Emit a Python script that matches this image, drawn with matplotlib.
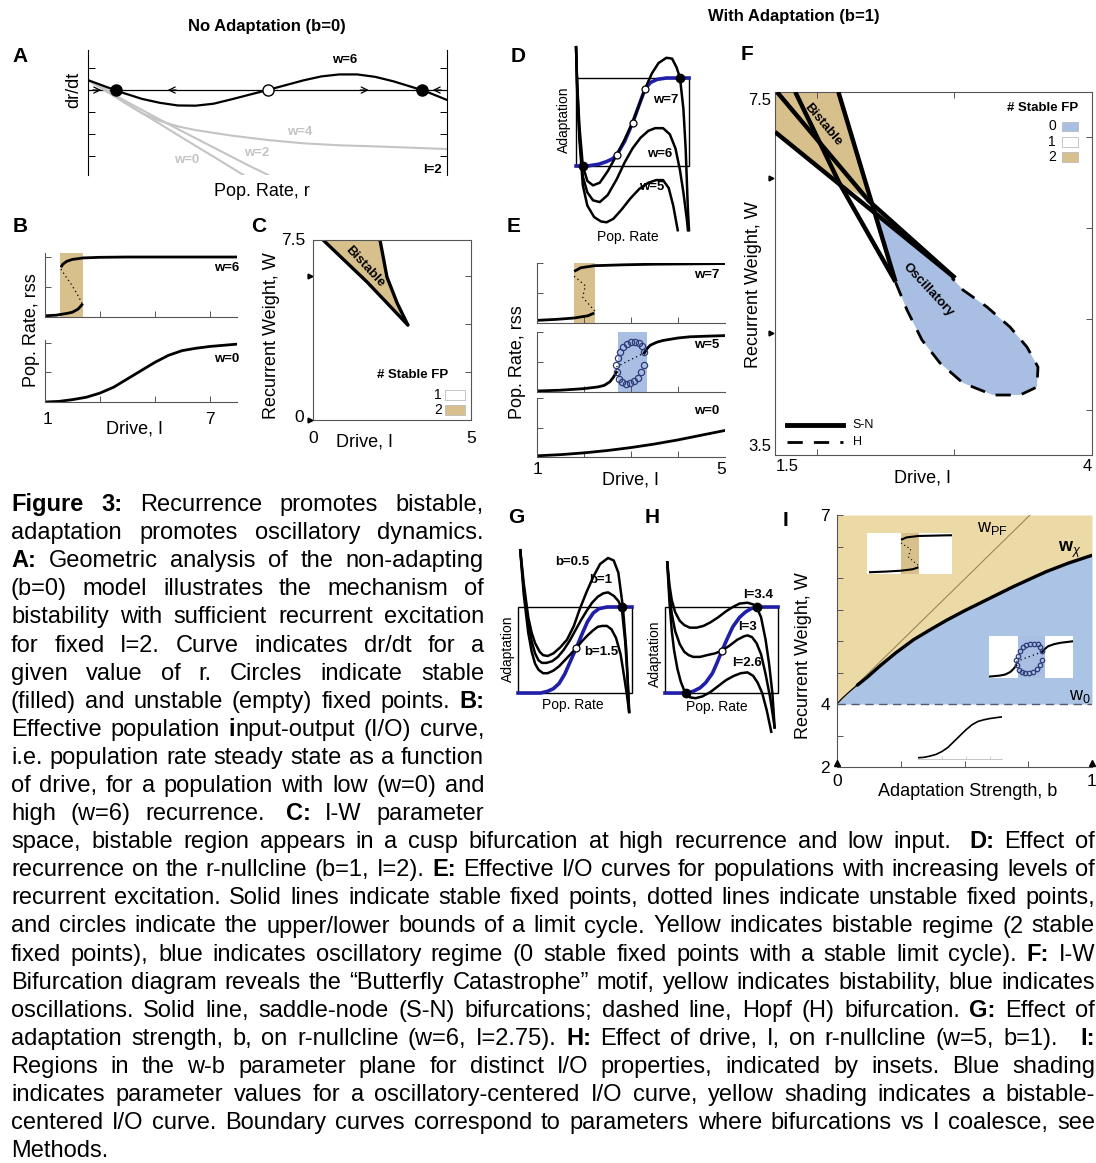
import matplotlib
matplotlib.use("Agg")
import matplotlib.pyplot as plt
from matplotlib.patches import Rectangle, Polygon

FIG_W, FIG_H = 1096, 1163

plt.rcParams["font.family"] = ["Liberation Sans", "DejaVu Sans"]
plt.rcParams["mathtext.fontset"] = "custom"
plt.rcParams["mathtext.rm"] = "Liberation Sans"
plt.rcParams["mathtext.it"] = "Liberation Sans:italic"
plt.rcParams["mathtext.bf"] = "Liberation Sans:bold"

TAN = "#d8c08d"
TAN_LIGHT = "#ecdaa6"
BLUE = "#a8bee2"
BLUE_LIGHT = "#abc3e5"
NULL_BLUE = "#1f1fa8"
NAVY = "#2e3d78"
GRAY = "#c4c4c4"
SPINE = "#555555"

# ---- A: dr/dt as a function of r (b=0, I=2)
A_R6 = [0.00, 0.05, 0.10, 0.15, 0.20, 0.25, 0.30, 0.35, 0.40, 0.45, 0.50,
        0.55, 0.60, 0.65, 0.70, 0.75, 0.80, 0.85, 0.90, 0.93, 0.95, 1.00]
A_W6 = [0.45, 0.15, -0.14, -0.40, -0.58, -0.70, -0.71, -0.62, -0.42, -0.21, 0.00,
        0.22, 0.44, 0.62, 0.71, 0.71, 0.60, 0.40, 0.15, 0.00, -0.12, -0.45]
A_R4 = [0.00, 0.05, 0.10, 0.15, 0.20, 0.25, 0.30, 0.40, 0.50, 0.60, 0.70, 0.80, 0.90, 1.00]
A_W4 = [0.45, 0.05, -0.55, -1.05, -1.40, -1.65, -1.82, -2.07, -2.27, -2.42, -2.51, -2.56, -2.62, -2.68]
A_R2 = [0.00, 0.05, 0.10, 0.15, 0.20, 0.25, 0.30, 0.35, 0.40, 0.45, 0.52]
A_W2 = [0.45, 0.00, -0.46, -0.90, -1.34, -1.77, -2.19, -2.61, -3.03, -3.45, -4.00]
A_R0 = [0.00, 0.05, 0.10, 0.15, 0.20, 0.25, 0.30, 0.35, 0.40, 0.45]
A_W0 = [0.45, -0.05, -0.55, -1.04, -1.54, -2.04, -2.54, -3.03, -3.53, -4.03]
A_STABLE = [0.078, 0.93]
A_UNSTABLE = [0.50]
A_ARROW_R = [0.025, 0.234, 0.77, 0.972]
A_ARROW_DIR = [1, -1, 1, -1]

# ---- B: steady-state rate vs drive (b=0)
B_W6_LO_I = [1.0, 1.4, 1.8, 2.0, 2.2, 2.38]
B_W6_LO_R = [0.02, 0.03, 0.06, 0.08, 0.13, 0.22]
B_W6_HI_I = [1.58, 1.65, 1.8, 2.0, 2.4, 3.0, 4.0, 6.0, 8.0]
B_W6_HI_R = [0.83, 0.88, 0.93, 0.96, 0.985, 0.995, 1.0, 1.0, 1.0]
B_W6_MID_I = [1.58, 1.75, 1.98, 2.2, 2.38]
B_W6_MID_R = [0.80, 0.68, 0.53, 0.36, 0.20]
B_BISTABLE = (1.55, 2.38)
B_W0_I = [1.0, 1.5, 2.0, 2.5, 3.0, 3.5, 4.0, 4.5, 5.0, 5.5, 6.0, 6.5, 7.0, 7.5, 8.0]
B_W0_R = [0.0, 0.01, 0.04, 0.08, 0.15, 0.25, 0.39, 0.53, 0.67, 0.79, 0.87, 0.91, 0.94, 0.96, 0.98]

# ---- C: I-W plane, b=0
C_LOW_I = [0.32, 1.71, 3.0]
C_LOW_W = [7.5, 5.75, 3.96]
C_UP_I = [2.12, 2.34, 2.66, 3.0]
C_UP_W = [7.5, 5.96, 4.88, 3.96]

# ---- D: r-nullcline and adaptation nullcline (b=1, I=2)
D_BLUE_R = [0.0, 0.10, 0.20, 0.27, 0.32, 0.36, 0.43, 0.50, 0.56, 0.61, 0.66, 0.72, 0.80, 1.0]
D_BLUE_A = [0.0, 0.0, 0.02, 0.05, 0.08, 0.125, 0.28, 0.49, 0.70, 0.875, 0.95, 0.985, 1.0, 1.0]
D_W7_R = [0.00, 0.01, 0.03, 0.06, 0.10, 0.15, 0.21, 0.28, 0.36, 0.43, 0.50, 0.56,
          0.61, 0.67, 0.73, 0.80, 0.85, 0.89, 0.92, 0.95, 0.97, 0.99, 1.00]
D_W7_A = [1.35, 0.95, 0.45, 0.0, -0.17, -0.22, -0.19, -0.06, 0.125, 0.30, 0.49, 0.70,
          0.875, 1.05, 1.17, 1.23, 1.22, 1.12, 1.0, 0.65, 0.2, -0.5, -0.73]
D_W6_R = [0.00, 0.01, 0.03, 0.06, 0.10, 0.15, 0.21, 0.28, 0.36, 0.43, 0.50, 0.57,
          0.64, 0.70, 0.77, 0.83, 0.88, 0.92, 0.95, 0.98, 0.99]
D_W6_A = [1.35, 0.9, 0.35, -0.12, -0.30, -0.39, -0.41, -0.33, -0.15, 0.04, 0.20, 0.32,
          0.40, 0.43, 0.43, 0.36, 0.20, -0.05, -0.30, -0.60, -0.73]
D_W5_R = [0.00, 0.01, 0.03, 0.06, 0.10, 0.16, 0.22, 0.27, 0.33, 0.40, 0.48, 0.56,
          0.64, 0.71, 0.77, 0.82, 0.86, 0.90]
D_W5_A = [1.35, 0.85, 0.3, -0.22, -0.45, -0.58, -0.63, -0.64, -0.60, -0.50, -0.37, -0.26,
          -0.19, -0.16, -0.16, -0.25, -0.45, -0.73]
D_STABLE = ([0.06, 0.92], [0.0, 1.0])
D_UNSTABLE = ([0.36, 0.50, 0.61], [0.125, 0.49, 0.875])

# ---- E: steady-state rate vs drive (b=1)
E7_LO_I = [1.0, 1.4, 1.79, 2.08, 2.22]
E7_LO_R = [0.044, 0.06, 0.083, 0.12, 0.167]
E7_HI_I = [1.79, 1.93, 2.22, 2.85, 3.5, 5.0]
E7_HI_R = [0.86, 0.92, 0.955, 0.97, 0.98, 0.99]
E7_MID_I = [1.79, 2.03, 1.97, 2.24]
E7_MID_R = [0.78, 0.62, 0.43, 0.19]
E7_BISTABLE = (1.79, 2.23)
E5_LO_I = [1.0, 1.5, 2.0, 2.3, 2.43, 2.55, 2.62, 2.69]
E5_LO_R = [0.017, 0.03, 0.056, 0.085, 0.11, 0.17, 0.24, 0.33]
E5_HI_I = [3.28, 3.35, 3.41, 3.55, 3.69, 4.0, 4.25, 4.6, 5.0]
E5_HI_R = [0.65, 0.73, 0.78, 0.83, 0.86, 0.90, 0.92, 0.93, 0.94]
E5_MID_I = [2.69, 3.28]
E5_MID_R = [0.42, 0.65]
E5_OSC = (2.72, 3.33)
E5_CYC_UP_I = [2.69, 2.72, 2.77, 2.83, 2.91, 3.00, 3.09, 3.17, 3.23, 3.28]
E5_CYC_UP_R = [0.45, 0.56, 0.67, 0.75, 0.80, 0.83, 0.84, 0.82, 0.77, 0.66]
E5_CYC_LO_I = [2.70, 2.74, 2.81, 2.89, 2.98, 3.07, 3.15, 3.22, 3.27]
E5_CYC_LO_R = [0.33, 0.22, 0.16, 0.14, 0.15, 0.18, 0.24, 0.33, 0.45]
E0_I = [1.0, 1.5, 2.0, 2.5, 3.0, 3.5, 4.0, 4.5, 5.0]
E0_R = [0.02, 0.04, 0.07, 0.11, 0.16, 0.22, 0.29, 0.37, 0.45]

# ---- F: I-W bifurcation diagram (b=1)
F_TAN_I = [1.5, 2.0, 2.24, 2.01, 1.5]
F_TAN_W = [7.5, 7.5, 6.30, 6.49, 7.06]
F_OSC_I = [2.27, 2.45, 2.541, 2.659, 2.801, 2.983, 3.219, 3.432, 3.566, 3.574,
           3.487, 3.353, 3.172, 2.983, 2.896]
F_OSC_W = [6.18, 5.406, 5.098, 4.767, 4.514, 4.293, 4.161, 4.161, 4.249, 4.470,
           4.690, 4.911, 5.131, 5.318, 5.451]
F_SN = [
    ([1.5, 2.92], [7.06, 5.45]),
    ([2.0, 2.45], [7.5, 5.41]),
    ([1.516, 2.24, 2.92], [7.5, 6.30, 5.45]),
    ([1.66, 2.01, 2.45], [7.5, 6.49, 5.41]),
]
F_HOPF_I = F_OSC_I[1:]
F_HOPF_W = F_OSC_W[1:]

# ---- G: r-nullclines for several adaptation strengths (w=6, I=2.75)
G_BLUE_X = [0.0, 0.20, 0.26, 0.31, 0.36, 0.41, 0.46, 0.51, 0.56, 0.61, 0.66, 0.71, 0.78, 1.0]
G_BLUE_Y = [0.0, 0.0, 0.02, 0.05, 0.11, 0.22, 0.37, 0.52, 0.68, 0.83, 0.93, 0.98, 1.0, 1.0]
G_B05_X = [0.02, 0.05, 0.09, 0.12, 0.15, 0.19, 0.22, 0.26, 0.31, 0.37, 0.43, 0.49, 0.54,
           0.60, 0.66, 0.72, 0.79, 0.84, 0.88, 0.92, 0.95, 0.975]
G_B05_Y = [1.66, 1.28, 0.88, 0.70, 0.58, 0.48, 0.44, 0.43, 0.46, 0.53, 0.62, 0.78, 0.97,
           1.17, 1.35, 1.50, 1.57, 1.54, 1.40, 1.00, 0.50, -0.22]
G_B1_X = [0.02, 0.05, 0.09, 0.12, 0.15, 0.18, 0.21, 0.25, 0.30, 0.35, 0.40, 0.45, 0.50,
          0.55, 0.60, 0.65, 0.70, 0.75, 0.79, 0.84, 0.88, 0.91, 0.94, 0.96, 0.975]
G_B1_Y = [1.66, 1.22, 0.80, 0.60, 0.46, 0.38, 0.35, 0.35, 0.37, 0.42, 0.50, 0.60, 0.72,
          0.84, 0.95, 1.05, 1.12, 1.16, 1.17, 1.13, 1.07, 0.99, 0.60, 0.20, -0.22]
G_B15_X = [0.02, 0.05, 0.09, 0.12, 0.15, 0.18, 0.22, 0.26, 0.31, 0.36, 0.41, 0.46, 0.51,
           0.56, 0.61, 0.66, 0.70, 0.74, 0.78, 0.82, 0.86, 0.90, 0.93, 0.955, 0.975]
G_B15_Y = [1.66, 1.15, 0.70, 0.48, 0.34, 0.27, 0.23, 0.23, 0.26, 0.31, 0.38, 0.45, 0.52,
           0.60, 0.67, 0.73, 0.77, 0.78, 0.78, 0.74, 0.64, 0.45, 0.20, -0.02, -0.22]
G_STABLE = ([0.91], [1.0])
G_UNSTABLE = ([0.51], [0.52])

# ---- H: r-nullclines for several drives (w=5, b=1)
H_BLUE_X = [0.0, 0.19, 0.25, 0.31, 0.36, 0.42, 0.46, 0.50, 0.55, 0.60, 0.66, 0.71, 0.76, 0.81, 1.0]
H_BLUE_Y = [0.0, 0.0, 0.02, 0.06, 0.12, 0.23, 0.35, 0.48, 0.63, 0.77, 0.88, 0.94, 0.98, 1.0, 1.0]
H_I34_X = [0.02, 0.04, 0.06, 0.09, 0.13, 0.17, 0.22, 0.28, 0.34, 0.40, 0.47, 0.54,
           0.60, 0.66, 0.73, 0.78, 0.81, 0.85, 0.89, 0.92, 0.95, 0.97]
H_I34_Y = [1.52, 1.25, 1.08, 0.94, 0.84, 0.79, 0.76, 0.76, 0.78, 0.82, 0.88, 0.95,
           1.00, 1.04, 1.05, 1.03, 1.00, 0.88, 0.62, 0.35, 0.0, -0.40]
H_I3_X = [0.02, 0.04, 0.06, 0.09, 0.13, 0.17, 0.21, 0.25, 0.31, 0.37, 0.44, 0.50,
          0.57, 0.64, 0.70, 0.73, 0.77, 0.81, 0.85, 0.89, 0.93, 0.97]
H_I3_Y = [1.52, 1.15, 0.92, 0.72, 0.57, 0.48, 0.44, 0.42, 0.42, 0.44, 0.46, 0.49,
          0.55, 0.62, 0.66, 0.67, 0.65, 0.58, 0.45, 0.22, -0.05, -0.40]
H_I26_X = [0.02, 0.04, 0.06, 0.08, 0.11, 0.14, 0.17, 0.19, 0.22, 0.27, 0.33, 0.40,
           0.47, 0.54, 0.61, 0.67, 0.73, 0.78, 0.82, 0.86, 0.90, 0.94]
H_I26_Y = [1.52, 1.05, 0.72, 0.50, 0.28, 0.13, 0.03, 0.0, -0.05, -0.06, -0.04, 0.01,
           0.08, 0.15, 0.20, 0.23, 0.24, 0.20, 0.12, 0.0, -0.20, -0.45]
H_STABLE = ([0.81, 0.19], [1.0, 0.0])
H_UNSTABLE = ([0.50], [0.49])

# ---- I: w-b parameter plane
I_WCHI_B = [0.0, 0.02, 0.05, 0.08, 0.12, 0.17, 0.23, 0.30, 0.37, 0.43, 0.50, 0.56,
            0.63, 0.69, 0.76, 0.82, 0.91, 1.0]
I_WCHI_W = [4.0, 4.09, 4.20, 4.30, 4.43, 4.61, 4.81, 5.02, 5.19, 5.33, 5.48, 5.60,
            5.74, 5.86, 5.99, 6.10, 6.24, 6.36]
I_THICK_FROM = 3
I_PF_B = [0.0, 0.757]
I_PF_W = [4.0, 7.0]
I_W0 = 4.0

CAPTION_NARROW = [
    "*Figure* *3:* Recurrence promotes bistable,",
    "adaptation promotes oscillatory dynamics.",
    "*A:* Geometric analysis of the non-adapting",
    "(b=0) model illustrates the mechanism of",
    "bistability with sufficient recurrent excitation",
    "for fixed I=2. Curve indicates dr/dt for a",
    "given value of r. Circles indicate stable",
    "(filled) and unstable (empty) fixed points. *B:*",
    "Effective population *i*nput-output (I/O) curve,",
    "i.e. population rate steady state as a function",
    "of drive, for a population with low (w=0) and",
    "high (w=6) recurrence.  *C:* I-W parameter",
]
CAPTION_WIDE = [
    "space, bistable region appears in a cusp bifurcation at high recurrence and low input.  *D:* Effect of",
    "recurrence on the r-nullcline (b=1, I=2). *E:* Effective I/O curves for populations with increasing levels of",
    "recurrent excitation. Solid lines indicate stable fixed points, dotted lines indicate unstable fixed points,",
    "and circles indicate the upper/lower bounds of a limit cycle. Yellow indicates bistable regime (2 stable",
    "fixed points), blue indicates oscillatory regime (0 stable fixed points with a stable limit cycle). *F:* I-W",
    "Bifurcation diagram reveals the \u201cButterfly Catastrophe\u201d motif, yellow indicates bistability, blue indicates",
    "oscillations. Solid line, saddle-node (S-N) bifurcations; dashed line, Hopf (H) bifurcation. *G:* Effect of",
    "adaptation strength, b, on r-nullcline (w=6, I=2.75). *H:* Effect of drive, I, on r-nullcline (w=5, b=1).   *I:*",
    "Regions in the w-b parameter plane for distinct I/O properties, indicated by insets. Blue shading",
    "indicates parameter values for a oscillatory-centered I/O curve, yellow shading indicates a bistable-",
    "centered I/O curve. Boundary curves correspond to parameters where bifurcations vs I coalesce, see",
    "Methods.",
]


def px_axes(fig, x0, y0, x1, y1):
    return fig.add_axes([x0 / FIG_W, 1 - y1 / FIG_H, (x1 - x0) / FIG_W, (y1 - y0) / FIG_H])


def ptext(fig, x, y, s, **kw):
    kw.setdefault("ha", "center")
    kw.setdefault("va", "center")
    return fig.text(x / FIG_W, 1 - y / FIG_H, s, **kw)


def style_io(ax, xlim, ylim, xticks, yticks):
    ax.set_xlim(*xlim)
    ax.set_ylim(*ylim)
    ax.spines[["top", "right"]].set_visible(False)
    for s in ("left", "bottom"):
        ax.spines[s].set_linewidth(0.8)
        ax.spines[s].set_color(SPINE)
    ax.set_xticks(xticks)
    ax.set_yticks(yticks)
    ax.tick_params(direction="in", length=4, width=0.7, color=SPINE,
                   labelleft=False, labelbottom=False)


def nullcline_axes(fig, rect, xlim, ylim):
    ax = px_axes(fig, *rect)
    ax.set_xlim(*xlim)
    ax.set_ylim(*ylim)
    ax.axis("off")
    ax.add_patch(Rectangle((0, 0), 1, 1, fill=False, lw=1.0, ec="black", zorder=1))
    return ax


def bistable_io(ax, lo, hi, mid, span, lw=2.0, dot_lw=0.9):
    ax.axvspan(*span, color=TAN, lw=0, zorder=0)
    ax.plot(*lo, color="black", lw=lw, solid_capstyle="butt")
    ax.plot(*hi, color="black", lw=lw, solid_capstyle="butt")
    ax.plot(*mid, color="black", lw=dot_lw, ls=(0, (1, 2.5)))


def oscillatory_io(ax, ms=4.5, lw=2.0):
    ax.axvspan(*E5_OSC, color=BLUE, lw=0, zorder=0)
    ax.plot(E5_LO_I, E5_LO_R, color="black", lw=lw)
    ax.plot(E5_HI_I, E5_HI_R, color="black", lw=lw)
    ax.plot(E5_MID_I, E5_MID_R, color="black", lw=0.9, ls=(0, (1, 2.5)))
    for xs, ys in ((E5_CYC_UP_I, E5_CYC_UP_R), (E5_CYC_LO_I, E5_CYC_LO_R)):
        ax.plot(xs, ys, "o", ms=ms, mfc="none", mec=NAVY, mew=0.9, zorder=4)


def caption_line(fig, renderer, line, x0, x1, y, space, size, justify=True):
    words, gaps, pending = [], [], 0
    for tok in line.split(" "):
        if tok == "":
            pending += 1
            continue
        if words:
            gaps.append(1 + pending)
        pending = 0
        words.append(tok)
    placed = []
    for w in words:
        segs = []
        for i, part in enumerate(w.split("*")):
            if part:
                segs.append(ptext(fig, x0, y, part, fontsize=size, ha="left", va="baseline",
                                  fontweight="bold" if i % 2 else "normal"))
        placed.append(segs)
    widths = [[t.get_window_extent(renderer).width for t in segs] for segs in placed]
    natural = sum(sum(w) for w in widths) + space * sum(gaps)
    extra = (x1 - x0 - natural) / len(gaps) if (justify and gaps) else 0.0
    x = x0
    for k, segs in enumerate(placed):
        for t, w in zip(segs, widths[k]):
            t.set_x(x / FIG_W)
            x += w
        if k < len(gaps):
            x += space * gaps[k] + extra


fig = plt.figure(figsize=(FIG_W / 100, FIG_H / 100), dpi=100)
fig.patch.set_facecolor("white")

# titles and panel letters
ptext(fig, 267, 27, "No Adaptation (b=0)", fontsize=12, fontweight="bold")
ptext(fig, 794, 16, "With Adaptation (b=1)", fontsize=12, fontweight="bold")
for letter, x, y in (("A", 20, 57), ("B", 20, 226), ("C", 259, 226), ("D", 518, 56),
                     ("E", 514, 226), ("F", 747, 55), ("G", 516, 518), ("H", 652, 518),
                     ("I", 786, 520)):
    ptext(fig, x, y, letter, fontsize=15, fontweight="bold")

# ---------------- A
axA = px_axes(fig, 88, 50, 447, 175)
axA.set_xlim(0, 1)
axA.set_ylim(-3.86, 1.82)
axA.spines[["top", "bottom"]].set_visible(False)
for s in ("left", "right"):
    axA.spines[s].set_linewidth(0.8)
axA.set_xticks([])
axA.set_yticks([1, 0, -1, -2, -3])
axA.tick_params(axis="y", direction="in", length=5, width=0.7, left=True, right=True,
                labelleft=False)
axA.axhline(0, color="black", lw=0.9)
for rs, ws in ((A_R0, A_W0), (A_R2, A_W2), (A_R4, A_W4)):
    axA.plot(rs, ws, color=GRAY, lw=1.5)
axA.plot(A_R6, A_W6, color="black", lw=1.6)
for r, d in zip(A_ARROW_R, A_ARROW_DIR):
    axA.annotate("", xy=(r + 0.012 * d, 0), xytext=(r - 0.012 * d, 0),
                 arrowprops=dict(arrowstyle="->", lw=0.9, color="black",
                                 mutation_scale=11, shrinkA=0, shrinkB=0))
axA.plot(A_STABLE, [0] * len(A_STABLE), "o", ms=8, color="black", zorder=5)
axA.plot(A_UNSTABLE, [0] * len(A_UNSTABLE), "o", ms=8, mfc="white", mec="black",
         mew=1.0, zorder=5)
axA.text(0.716, 1.36, "w=6", fontsize=9.5, fontweight="bold", ha="center", va="center")
axA.text(0.59, -1.91, "w=4", fontsize=9.5, fontweight="bold", color=GRAY, ha="center", va="center")
axA.text(0.47, -2.86, "w=2", fontsize=9.5, fontweight="bold", color=GRAY, ha="center", va="center")
axA.text(0.276, -3.18, "w=0", fontsize=9.5, fontweight="bold", color=GRAY, ha="center", va="center")
axA.text(0.96, -3.62, "I=2", fontsize=9.5, fontweight="bold", ha="center", va="center")
ptext(fig, 74, 90, "dr/dt", fontsize=13, rotation=90)
ptext(fig, 262, 192, "Pop. Rate, r", fontsize=13)

# ---------------- B
axB1 = px_axes(fig, 45, 253, 237, 317)
style_io(axB1, (1, 8), (0, 1.067), [3, 5, 7], [0.5, 1.0])
bistable_io(axB1, (B_W6_LO_I, B_W6_LO_R), (B_W6_HI_I, B_W6_HI_R),
            (B_W6_MID_I, B_W6_MID_R), B_BISTABLE)
axB2 = px_axes(fig, 45, 340, 237, 402)
style_io(axB2, (1, 8), (0, 1.05), [3, 5, 7], [0.5, 1.0])
axB2.plot(B_W0_I, B_W0_R, color="black", lw=2.0)
ptext(fig, 227, 268, "w=6", fontsize=9.5, fontweight="bold")
ptext(fig, 227, 359, "w=0", fontsize=9.5, fontweight="bold")
ptext(fig, 48, 419, "1", fontsize=12.5)
ptext(fig, 210, 419, "7", fontsize=12.5)
ptext(fig, 31, 330, "Pop. Rate, rss", fontsize=13, rotation=90)
ptext(fig, 135, 429, "Drive, I", fontsize=13)

# ---------------- C
axC = px_axes(fig, 313, 240, 471, 420)
axC.set_xlim(0, 5)
axC.set_ylim(0, 7.5)
for s in axC.spines.values():
    s.set_linewidth(0.8)
    s.set_color(SPINE)
axC.set_xticks([])
axC.set_yticks([2, 4, 6])
axC.tick_params(axis="y", direction="in", length=4, width=0.7, color=SPINE, left=False,
                right=True, labelleft=False)
axC.add_patch(Polygon(list(zip(C_LOW_I + C_UP_I[::-1], C_LOW_W + C_UP_W[::-1])),
                      closed=True, fc=TAN, ec="none", zorder=1))
axC.plot(C_LOW_I, C_LOW_W, color="black", lw=2.4, solid_capstyle="round", zorder=2)
axC.plot(C_UP_I, C_UP_W, color="black", lw=2.4, solid_capstyle="round", zorder=2)
axC.text(1.65, 6.38, "Bistable", fontsize=9.5, fontweight="bold", rotation=-47,
         ha="center", va="center", zorder=3)
axC.plot([-0.02, -0.02], [6, 0], ">", ms=3.5, color="black", clip_on=False,
         transform=axC.get_yaxis_transform())
axC.text(-0.25, 7.5, "7.5", fontsize=12.5, ha="right", va="center")
axC.text(-0.28, 0.1, "0", fontsize=12.5, ha="right", va="center")
axC.text(0, -0.45, "0", fontsize=12.5, ha="center", va="top")
axC.text(5, -0.45, "5", fontsize=12.5, ha="center", va="top")
axC.text(0.633, 0.25, "# Stable FP", transform=axC.transAxes, fontsize=9.5,
         fontweight="bold", ha="center", va="center")
for label, fy, fc in (("1", 0.139, "white"), ("2", 0.056, TAN)):
    axC.text(0.79, fy, label, transform=axC.transAxes, fontsize=10, ha="center", va="center")
    axC.add_patch(Rectangle((0.835, fy - 0.028), 0.127, 0.056, transform=axC.transAxes,
                            fc=fc, ec="#bbbbbb", lw=0.6))
ptext(fig, 272, 336, "Recurrent Weight, W", fontsize=13, rotation=90)
ptext(fig, 364, 442, "Drive, I", fontsize=13)

# ---------------- D
axD = nullcline_axes(fig, (560, 40, 700, 232), (-0.142, 1.097), (-0.75, 1.432))
axD.plot(D_BLUE_R, D_BLUE_A, color=NULL_BLUE, lw=2.6, zorder=2)
for rs, as_ in ((D_W5_R, D_W5_A), (D_W6_R, D_W6_A), (D_W7_R, D_W7_A)):
    axD.plot(rs, as_, color="black", lw=1.8, zorder=3)
axD.plot(*D_STABLE, "o", ms=6, color="black", zorder=4)
axD.plot(*D_UNSTABLE, "o", ms=5, mfc="white", mec="black", mew=0.9, zorder=4)
axD.text(0.79, 0.75, "w=7", fontsize=9.5, fontweight="bold", ha="center", va="center")
axD.text(0.74, 0.14, "w=6", fontsize=9.5, fontweight="bold", ha="center", va="center")
axD.text(0.67, -0.24, "w=5", fontsize=9.5, fontweight="bold", ha="center", va="center")
ptext(fig, 564, 120, "Adaptation", fontsize=10, rotation=90)
ptext(fig, 628, 237, "Pop. Rate", fontsize=10)

# ---------------- E
axE1 = px_axes(fig, 537, 263, 725, 323)
style_io(axE1, (1, 5), (0, 1), [2, 3, 4], [0.5, 1.0])
bistable_io(axE1, (E7_LO_I, E7_LO_R), (E7_HI_I, E7_HI_R), (E7_MID_I, E7_MID_R), E7_BISTABLE)
axE2 = px_axes(fig, 537, 332, 725, 392)
style_io(axE2, (1, 5), (0, 1), [2, 3, 4], [0.5, 1.0])
oscillatory_io(axE2)
axE3 = px_axes(fig, 537, 398, 725, 457)
style_io(axE3, (1, 5), (0, 1), [2, 3, 4], [0.5, 1.0])
axE3.plot(E0_I, E0_R, color="black", lw=2.0)
ptext(fig, 707, 275, "w=7", fontsize=9.5, fontweight="bold")
ptext(fig, 707, 345, "w=5", fontsize=9.5, fontweight="bold")
ptext(fig, 707, 411, "w=0", fontsize=9.5, fontweight="bold")
ptext(fig, 538, 469, "1", fontsize=12.5)
ptext(fig, 721, 469, "5", fontsize=12.5)
ptext(fig, 518, 362, "Pop. Rate, rss", fontsize=13, rotation=90)
ptext(fig, 630, 480, "Drive, I", fontsize=13)

# ---------------- F
axF = px_axes(fig, 775, 92, 1092, 455)
axF.set_xlim(1.5, 4)
axF.set_ylim(3.5, 7.5)
for s in axF.spines.values():
    s.set_linewidth(0.8)
    s.set_color(SPINE)
axF.set_xticks([1.83, 2.91])
axF.set_yticks([4, 5, 6, 7])
axF.tick_params(direction="in", length=4, width=0.7, color=SPINE, top=True, right=True,
                left=False, labelleft=False, labelbottom=False)
axF.add_patch(Polygon(list(zip(F_TAN_I, F_TAN_W)), closed=True, fc=TAN, ec="none", zorder=1))
axF.add_patch(Polygon(list(zip(F_OSC_I, F_OSC_W)), closed=True, fc=BLUE, ec="none", zorder=1))
for xs, ys in F_SN:
    axF.plot(xs, ys, color="black", lw=3.2, solid_capstyle="butt", zorder=3)
axF.plot(F_HOPF_I, F_HOPF_W, color="black", lw=2.0, ls=(0, (5.5, 4)), zorder=3)
axF.text(1.88, 7.14, "Bistable", fontsize=9.5, fontweight="bold", rotation=-50,
         ha="center", va="center", zorder=4)
axF.text(2.71, 5.32, "Oscillatory", fontsize=9.5, fontweight="bold", rotation=-47,
         ha="center", va="center", zorder=4)
axF.plot([-0.012, -0.012], [6.55, 4.84], ">", ms=3.5, color="black", clip_on=False,
         transform=axF.get_yaxis_transform())
axF.text(1.468, 7.41, "7.5", fontsize=12, ha="right", va="center")
axF.text(1.468, 3.59, "3.5", fontsize=12, ha="right", va="center")
axF.text(1.60, 3.37, "1.5", fontsize=12, ha="center", va="center")
axF.text(3.96, 3.37, "4", fontsize=12, ha="center", va="center")
axF.text(0.845, 0.956, "# Stable FP", transform=axF.transAxes, fontsize=9.5,
         fontweight="bold", ha="center", va="center")
for label, fy, fc in (("0", 0.905, BLUE), ("1", 0.862, "white"), ("2", 0.821, TAN)):
    axF.text(0.874, fy, label, transform=axF.transAxes, fontsize=10, ha="center", va="center")
    axF.add_patch(Rectangle((0.905, fy - 0.013), 0.051, 0.026, transform=axF.transAxes,
                            fc=fc, ec="#bbbbbb", lw=0.6))
axF.plot([0.038, 0.215], [0.083, 0.083], transform=axF.transAxes, color="black", lw=3.5)
axF.plot([0.038, 0.215], [0.036, 0.036], transform=axF.transAxes, color="black", lw=2.0,
         ls=(0, (5.5, 4)))
axF.text(0.245, 0.083, "S-N", transform=axF.transAxes, fontsize=9, va="center")
axF.text(0.245, 0.036, "H", transform=axF.transAxes, fontsize=9, va="center")
ptext(fig, 754, 285, "Recurrent Weight, W", fontsize=13, rotation=90)
ptext(fig, 922, 478, "Drive, I", fontsize=13)

# ---------------- G
axG = nullcline_axes(fig, (505, 540, 645, 720), (-0.114, 1.114), (-0.314, 1.779))
axG.plot(G_BLUE_X, G_BLUE_Y, color=NULL_BLUE, lw=2.6, zorder=2)
for xs, ys in ((G_B05_X, G_B05_Y), (G_B1_X, G_B1_Y), (G_B15_X, G_B15_Y)):
    axG.plot(xs, ys, color="black", lw=1.8, zorder=3)
axG.plot(*G_STABLE, "o", ms=6, color="black", zorder=4)
axG.plot(*G_UNSTABLE, "o", ms=5, mfc="white", mec="black", mew=0.9, zorder=4)
axG.text(0.474, 1.52, "b=0.5", fontsize=9.5, fontweight="bold", ha="center", va="center")
axG.text(0.729, 1.31, "b=1", fontsize=9.5, fontweight="bold", ha="center", va="center")
axG.text(0.731, 0.477, "b=1.5", fontsize=9.5, fontweight="bold", ha="center", va="center")
ptext(fig, 508, 649, "Adaptation", fontsize=10, rotation=90)
ptext(fig, 573, 705, "Pop. Rate", fontsize=10)

# ---------------- H
axH = nullcline_axes(fig, (652, 540, 790, 735), (-0.115, 1.106), (-0.488, 1.779))
axH.plot(H_BLUE_X, H_BLUE_Y, color=NULL_BLUE, lw=2.6, zorder=2)
for xs, ys in ((H_I34_X, H_I34_Y), (H_I3_X, H_I3_Y), (H_I26_X, H_I26_Y)):
    axH.plot(xs, ys, color="black", lw=1.8, zorder=3)
axH.plot(*H_STABLE, "o", ms=6, color="black", zorder=4)
axH.plot(*H_UNSTABLE, "o", ms=5, mfc="white", mec="black", mew=0.9, zorder=4)
axH.text(0.823, 1.14, "I=3.4", fontsize=9.5, fontweight="bold", ha="center", va="center")
axH.text(0.726, 0.767, "I=3", fontsize=9.5, fontweight="bold", ha="center", va="center")
axH.text(0.726, 0.349, "I=2.6", fontsize=9.5, fontweight="bold", ha="center", va="center")
ptext(fig, 655, 654, "Adaptation", fontsize=10, rotation=90)
ptext(fig, 717, 707, "Pop. Rate", fontsize=10)

# ---------------- I
axI = px_axes(fig, 837, 515, 1092, 767)
axI.set_xlim(0, 1)
axI.set_ylim(3, 7)
axI.spines[["top", "right"]].set_visible(False)
for s in ("left", "bottom"):
    axI.spines[s].set_linewidth(0.8)
    axI.spines[s].set_color(SPINE)
axI.fill_between(I_WCHI_B, I_WCHI_W, 7, color=TAN_LIGHT, lw=0, zorder=0)
axI.fill_between(I_WCHI_B, I_W0, I_WCHI_W, color=BLUE_LIGHT, lw=0, zorder=0)
axI.plot(I_PF_B, I_PF_W, color="#9c8657", lw=0.8, zorder=2)
axI.plot(I_WCHI_B[:I_THICK_FROM + 1], I_WCHI_W[:I_THICK_FROM + 1], color="black", lw=0.8, zorder=2)
axI.plot(I_WCHI_B[I_THICK_FROM:], I_WCHI_W[I_THICK_FROM:], color="black", lw=2.4,
         solid_capstyle="round", solid_joinstyle="round", zorder=3)
axI.axhline(I_W0, color="#4d5b73", lw=1.0, ls=(0, (6, 4)), zorder=2)
axI.set_xticks([0, 0.25, 0.5, 0.75, 1])
axI.set_xticklabels(["0", "", "", "", "1"])
axI.set_yticks([3, 3.5, 4, 4.5, 5, 5.5, 6, 6.5, 7])
axI.set_yticklabels(["2", "", "4", "", "", "", "", "", "7"])
axI.tick_params(direction="in", length=4, width=0.7, color=SPINE, labelsize=12.5, pad=5)
axI.plot([0, 1], [3.07, 3.07], "^", ms=4, color="black", clip_on=False, zorder=5)
axI.text(0.61, 6.79, r"w$_{\rm PF}$", fontsize=13, ha="center", va="center")
axI.text(0.914, 6.44, r"w$_{\chi}$", fontsize=13, fontweight="bold", ha="center", va="center")
axI.text(0.953, 4.12, r"w$_{\rm 0}$", fontsize=13, ha="center", va="center")
ptext(fig, 803, 656, "Recurrent Weight, W", fontsize=13, rotation=90)
ptext(fig, 968, 791, "Adaptation Strength, b", fontsize=13)

# I insets
inset1 = px_axes(fig, 867, 533, 952, 574)
inset1.set_xlim(0.95, 3.05)
inset1.set_ylim(0.0, 1.03)
inset1.set_xticks([])
inset1.set_yticks([])
for s in inset1.spines.values():
    s.set_visible(False)
bistable_io(inset1, (E7_LO_I, E7_LO_R), (E7_HI_I, E7_HI_R), (E7_MID_I, E7_MID_R),
            E7_BISTABLE, lw=1.5, dot_lw=0.8)

inset2 = px_axes(fig, 989, 636, 1073, 678)
inset2.set_xlim(2.07, 3.97)
inset2.set_ylim(0.03, 1.02)
inset2.set_xticks([])
inset2.set_yticks([])
for s in inset2.spines.values():
    s.set_visible(False)
oscillatory_io(inset2, ms=3.2, lw=1.5)

inset3 = px_axes(fig, 918, 716, 1002, 759)
inset3.set_xlim(1, 8)
inset3.set_ylim(-0.03, 1.0)
inset3.patch.set_alpha(0)
inset3.spines[["top", "right", "left"]].set_visible(False)
inset3.spines["bottom"].set_color("#bbbbbb")
inset3.spines["bottom"].set_linewidth(0.6)
inset3.set_yticks([])
inset3.set_xticks([3, 5, 7])
inset3.tick_params(direction="in", length=2, width=0.5, color="#bbbbbb", labelbottom=False)
inset3.plot(B_W0_I, B_W0_R, color="black", lw=1.2)

# ---------------- caption
CAP_SIZE = 17
renderer = fig.canvas.get_renderer()
probe_a = fig.text(0, 0, "a a", fontsize=CAP_SIZE)
probe_b = fig.text(0, 0, "aa", fontsize=CAP_SIZE)
space_w = probe_a.get_window_extent(renderer).width - probe_b.get_window_extent(renderer).width
probe_a.remove()
probe_b.remove()

LINE_STEP = 28.1
FIRST_BASELINE = 511
for k, line in enumerate(CAPTION_NARROW):
    caption_line(fig, renderer, line, 11, 484, FIRST_BASELINE + k * LINE_STEP, space_w, CAP_SIZE)
offset = len(CAPTION_NARROW)
for k, line in enumerate(CAPTION_WIDE):
    last = k == len(CAPTION_WIDE) - 1
    caption_line(fig, renderer, line, 11, 1095, FIRST_BASELINE + (offset + k) * LINE_STEP,
                 space_w, CAP_SIZE, justify=not last)

fig.savefig("out.png", dpi=100, facecolor="white")
